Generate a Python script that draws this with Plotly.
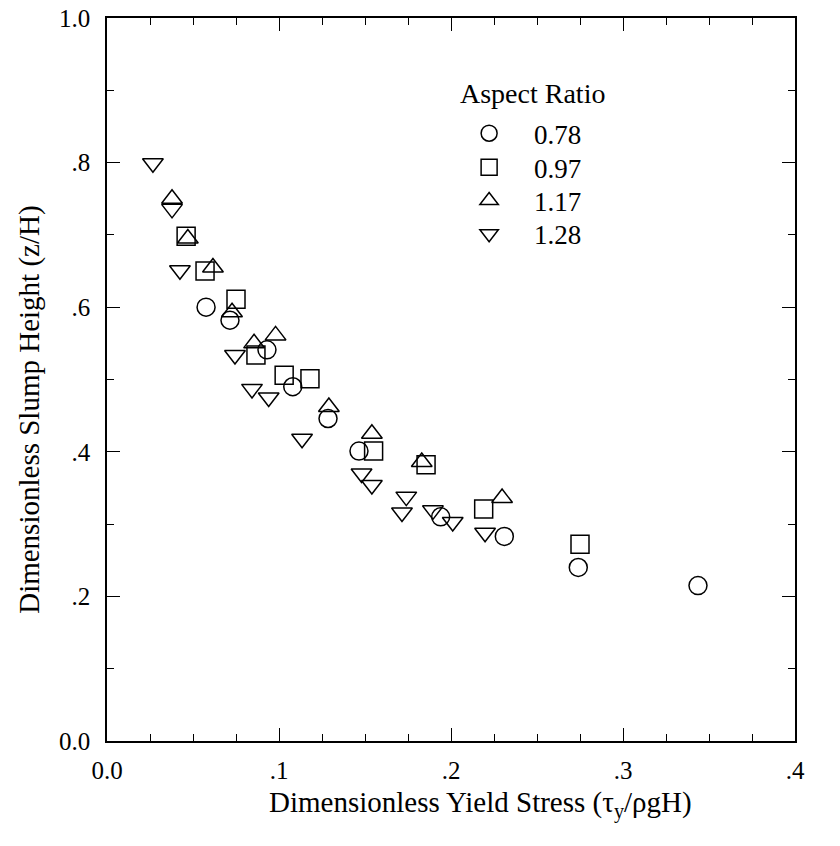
import plotly.graph_objects as go

ratios = ["0.78", "0.97", "1.17", "1.28"]
symbols = ["circle-open", "square-open", "triangle-up-open", "triangle-down-open"]

x_078 = [0.0576, 0.0715, 0.093, 0.108, 0.1285, 0.1465, 0.194, 0.231, 0.274, 0.3436]
y_078 = [0.600, 0.582, 0.541, 0.490, 0.446, 0.401, 0.310, 0.283, 0.240, 0.215]

x_097 = [0.046, 0.057, 0.075, 0.0866, 0.103, 0.118, 0.155, 0.1855, 0.219, 0.275]
y_097 = [0.698, 0.650, 0.611, 0.534, 0.506, 0.501, 0.401, 0.382, 0.321, 0.272]

x_117 = [0.0378, 0.047, 0.0616, 0.0727, 0.0855, 0.098, 0.129, 0.154, 0.183, 0.2297]
y_117 = [0.750, 0.695, 0.655, 0.593, 0.550, 0.561, 0.462, 0.425, 0.386, 0.336]

x_128 = [0.0267, 0.0378, 0.0424, 0.0744, 0.0843, 0.094, 0.1134, 0.148, 0.154, 0.174,
         0.1715, 0.1895, 0.201, 0.2198]
y_128 = [0.799, 0.736, 0.651, 0.534, 0.487, 0.475, 0.418, 0.370, 0.354, 0.338,
         0.316, 0.319, 0.303, 0.288]

xs = [x_078, x_097, x_117, x_128]
ys = [y_078, y_097, y_117, y_128]

x_ticks = [0.0, 0.1, 0.2, 0.3, 0.4]
x_labels = ["0.0", ".1", ".2", ".3", ".4"]
y_ticks = [0.0, 0.2, 0.4, 0.6, 0.8, 1.0]
y_labels = ["0.0", ".2", ".4", ".6", ".8", "1.0"]

font = "Liberation Serif"

# one legend per series so the rows can sit as tight as in the original
legend_names = ["legend2", "legend3", "legend4", "legend5"]
legend_rows = [0.84, 0.793, 0.747, 0.701]

fig = go.Figure()
for name, sym, x, y, lg in zip(ratios, symbols, xs, ys, legend_names):
    fig.add_trace(go.Scatter(
        x=x, y=y, mode="markers", name=name, legend=lg,
        marker=dict(symbol=sym, size=18, color="black", line=dict(width=1.5, color="black")),
    ))

axis_common = dict(
    showline=True, linecolor="black", linewidth=1.5, mirror="ticks",
    ticks="inside", ticklen=13, tickcolor="black", tickwidth=1,
    showgrid=False, zeroline=False, automargin=False, ticklabeloverflow="allow",
    tickfont=dict(family=font, size=25, color="black"),
)

fig.update_xaxes(
    range=[0, 0.4], tickvals=x_ticks, ticktext=x_labels, ticklabelstandoff=6,
    minor=dict(dtick=0.025, ticks="inside", ticklen=7, tickcolor="black", showgrid=False),
    **axis_common,
)
fig.update_yaxes(
    range=[0, 1.0], tickvals=y_ticks, ticktext=y_labels, ticklabelstandoff=10,
    minor=dict(dtick=0.1, ticks="inside", ticklen=7, tickcolor="black", showgrid=False),
    **axis_common,
)

legends = {}
for lg, ly in zip(legend_names, legend_rows):
    legends[lg] = dict(
        x=0.49, y=ly, xanchor="left", yanchor="middle",
        font=dict(family=font, size=27, color="black"),
        bgcolor="rgba(0,0,0,0)", itemwidth=80,
    )

fig.update_layout(
    width=840, height=846,
    margin=dict(l=99, r=53, t=10, b=113, autoexpand=False),
    plot_bgcolor="white", paper_bgcolor="white",
    font=dict(family=font, size=25, color="black"),
    annotations=[
        dict(text="Dimensionless Yield Stress (τ<sub>y</sub>/ρgH)", xref="paper", yref="paper",
             x=0.5436, y=-0.088, xanchor="center", yanchor="middle", showarrow=False,
             font=dict(family=font, size=29, color="black")),
        dict(text="Dimensionless Slump Height (z/H)", xref="paper", yref="paper",
             x=-0.112, y=0.458, xanchor="center", yanchor="middle", showarrow=False,
             textangle=-90, font=dict(family=font, size=29, color="black")),
        dict(text="Aspect Ratio", xref="paper", yref="paper",
             x=0.618, y=0.895, xanchor="center", yanchor="middle", showarrow=False,
             font=dict(family=font, size=28, color="black")),
    ],
    **legends,
)

fig.write_html("out.html")
